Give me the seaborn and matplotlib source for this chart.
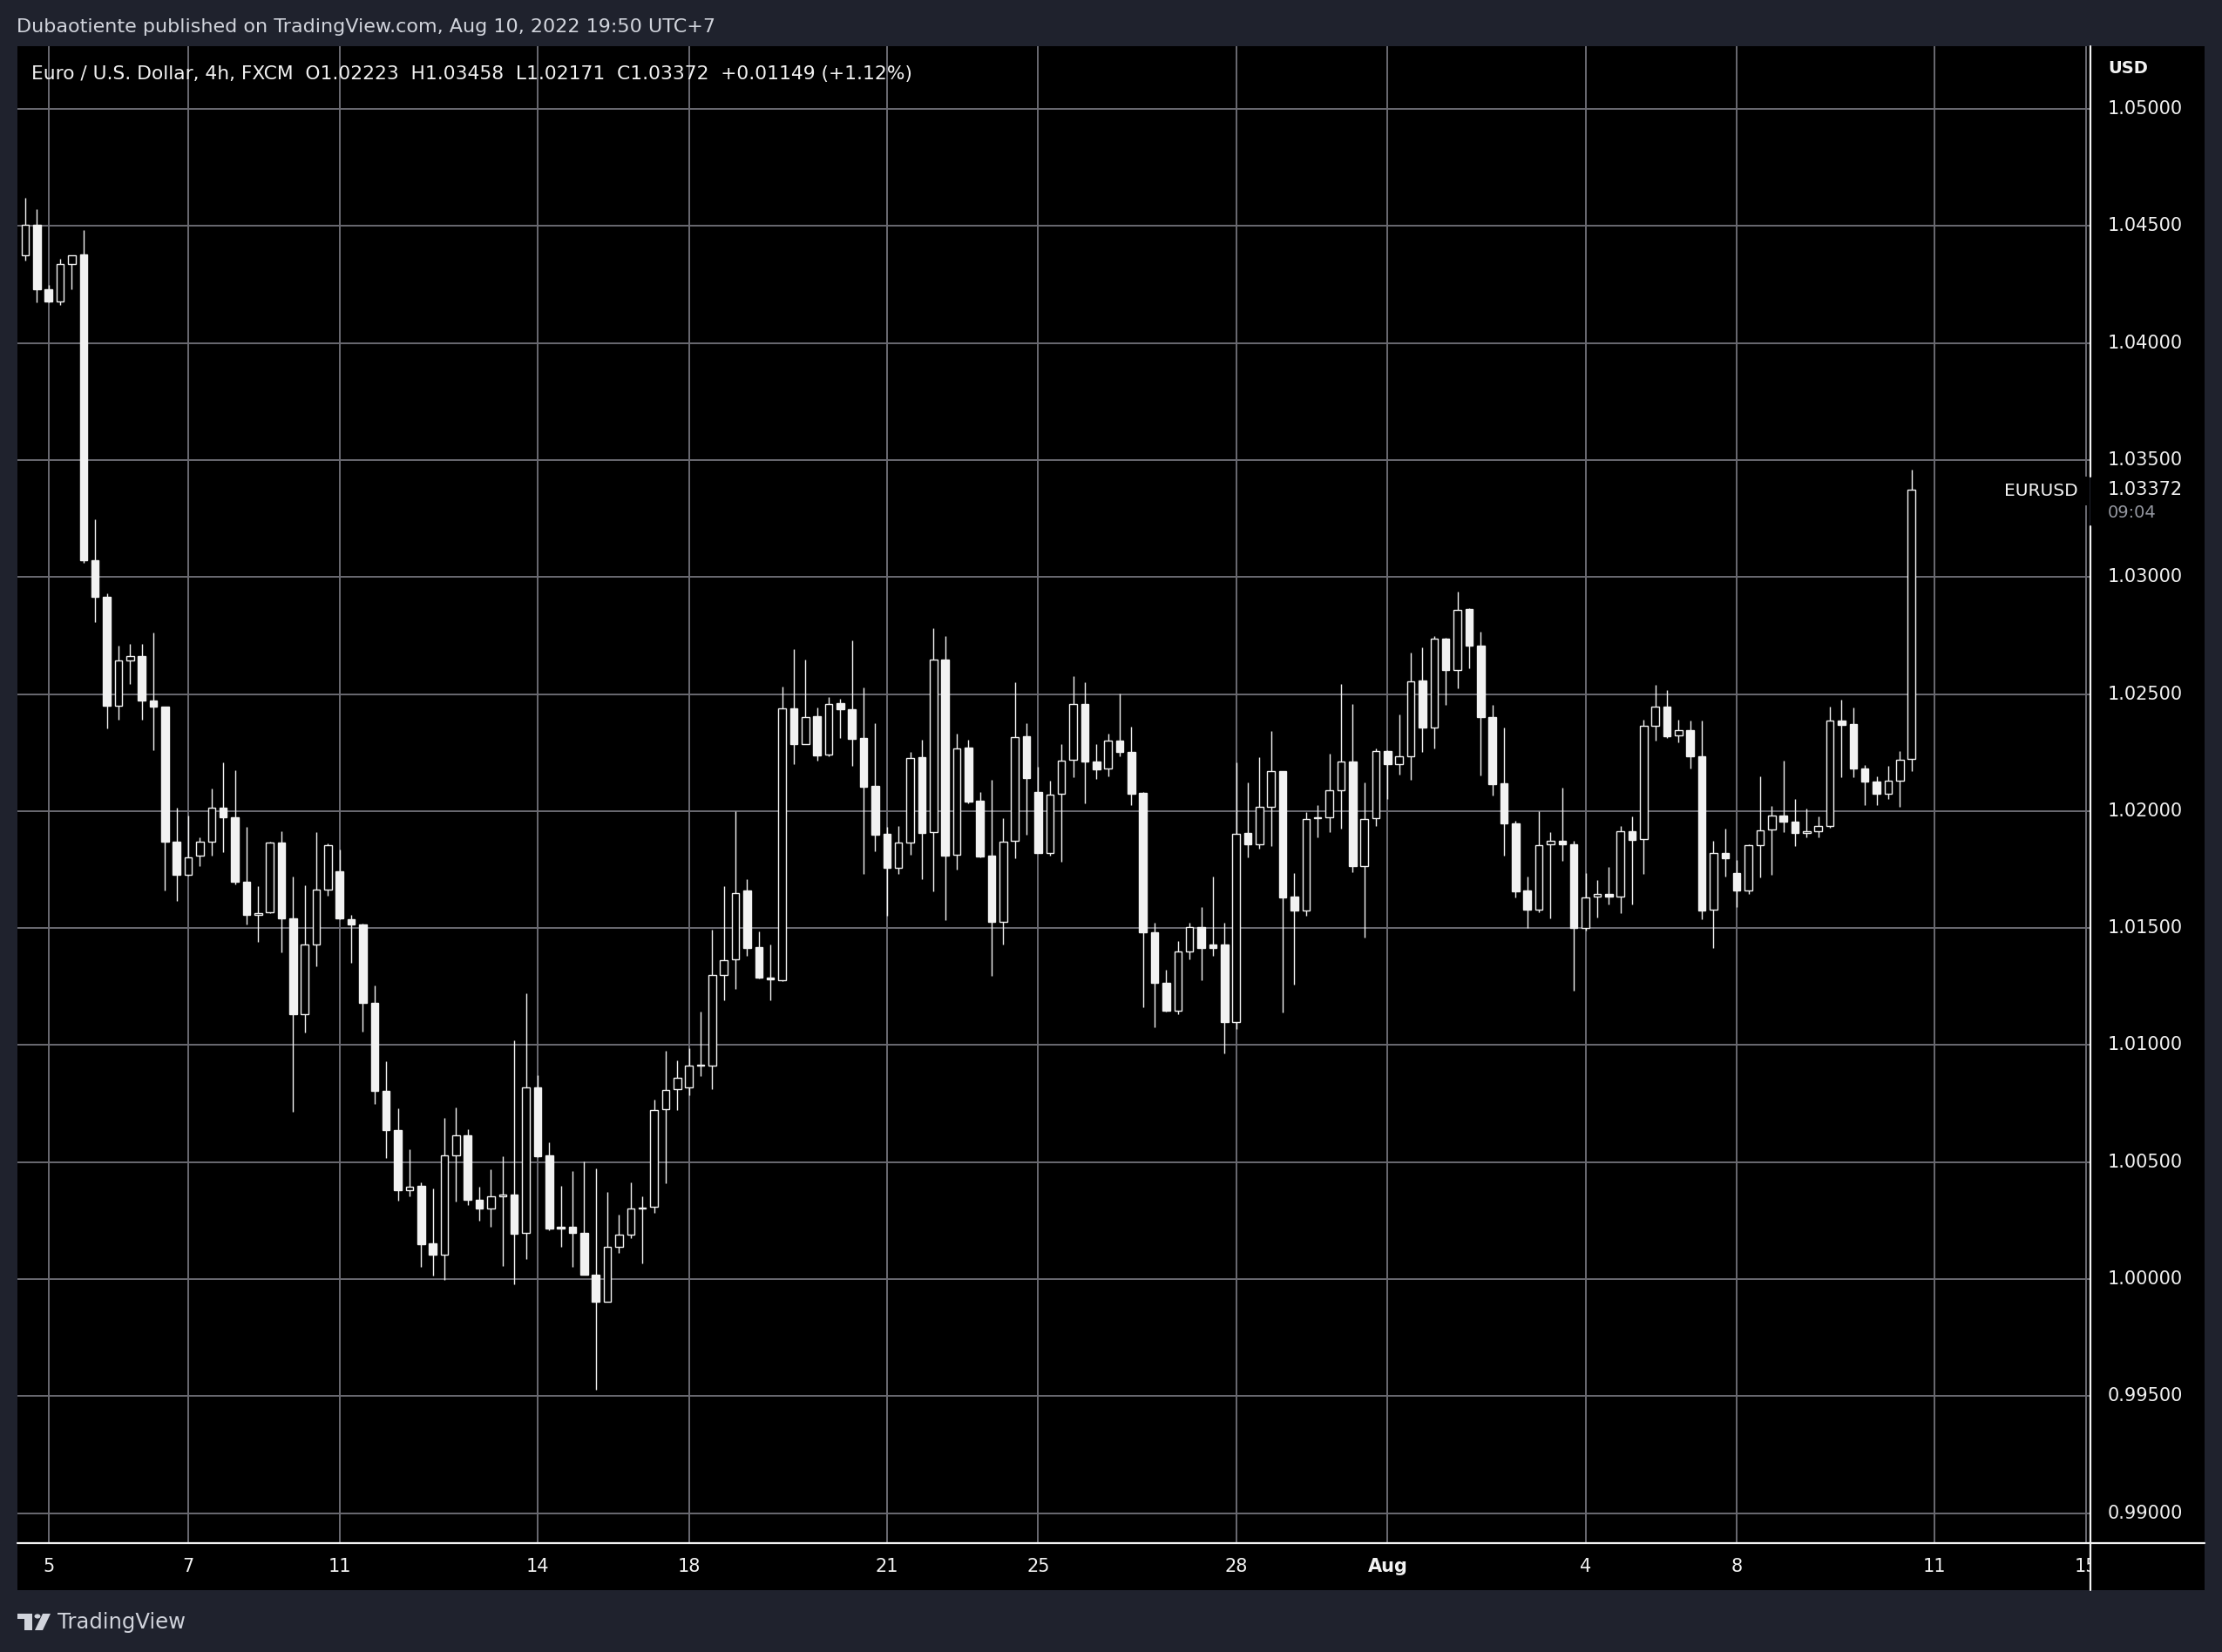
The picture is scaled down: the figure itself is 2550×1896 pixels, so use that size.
import numpy as np
import pandas as pd
import matplotlib
matplotlib.use("Agg")
import matplotlib.pyplot as plt
import seaborn as sns
from matplotlib.lines import Line2D
from matplotlib.patches import Rectangle, Polygon, Circle

# ---------------- data (EUR/USD 4h candles) ----------------
opens = [
    1.04374, 1.04506, 1.04231, 1.04178, 1.04339, 1.04380, 1.03072, 1.02914, 1.02449, 1.02645,
    1.02661, 1.02471, 1.02446, 1.01868, 1.01729, 1.01808, 1.01868, 1.02013, 1.01972, 1.01697,
    1.01555, 1.01567, 1.01865, 1.01542, 1.01131, 1.01428, 1.01665, 1.01741, 1.01536, 1.01514,
    1.01182, 1.00803, 1.00635, 1.00379, 1.00399, 1.00153, 1.00103, 1.00530, 1.00616, 1.00338,
    1.00301, 1.00353, 1.00362, 1.00197, 1.00820, 1.00528, 1.00225, 1.00225, 1.00198, 1.00019,
    0.99905, 1.00139, 1.00191, 1.00302, 1.00309, 1.00725, 1.00810, 1.00818, 1.00912, 1.00912,
    1.01300, 1.01365, 1.01660, 1.01417, 1.01287, 1.01277, 1.02438, 1.02286, 1.02404, 1.02241,
    1.02460, 1.02434, 1.02312, 1.02107, 1.01902, 1.01757, 1.01867, 1.02229, 1.01909, 1.02647,
    1.01812, 1.02270, 1.02044, 1.01808, 1.01527, 1.01871, 1.02318, 1.02083, 1.01822, 1.02072,
    1.02218, 1.02456, 1.02210, 1.02180, 1.02300, 1.02251, 1.02077, 1.01480, 1.01266, 1.01147,
    1.01400, 1.01503, 1.01429, 1.01429, 1.01100, 1.01905, 1.01856, 1.02019, 1.02172, 1.01635,
    1.01575, 1.01969, 1.01974, 1.02090, 1.02212, 1.01766, 1.01969, 1.02256, 1.02202, 1.02234,
    1.02556, 1.02356, 1.02738, 1.02604, 1.02863, 1.02708, 1.02402, 1.02117, 1.01949, 1.01660,
    1.01578, 1.01858, 1.01872, 1.01858, 1.01500, 1.01633, 1.01647, 1.01636, 1.01914, 1.01880,
    1.02363, 1.02447, 1.02322, 1.02345, 1.02235, 1.01577, 1.01820, 1.01735, 1.01662, 1.01855,
    1.01920, 1.01982, 1.01956, 1.01908, 1.01912, 1.01936, 1.02386, 1.02371, 1.02183, 1.02125,
    1.02075, 1.02129, 1.02223,
]
highs = [
    1.04620, 1.04573, 1.04247, 1.04361, 1.04376, 1.04484, 1.03245, 1.02929, 1.02708, 1.02715,
    1.02715, 1.02762, 1.02446, 1.02013, 1.01981, 1.01887, 1.02095, 1.02209, 1.02174, 1.01934,
    1.01678, 1.01870, 1.01912, 1.01720, 1.01681, 1.01909, 1.01861, 1.01836, 1.01555, 1.01520,
    1.01255, 1.00929, 1.00730, 1.00556, 1.00414, 1.00387, 1.00689, 1.00734, 1.00642, 1.00396,
    1.00470, 1.00526, 1.01019, 1.01220, 1.00873, 1.00585, 1.00400, 1.00460, 1.00504, 1.00474,
    1.00373, 1.00277, 1.00412, 1.00355, 1.00766, 1.00977, 1.00935, 1.00985, 1.01142, 1.01492,
    1.01680, 1.02000, 1.01710, 1.01485, 1.01431, 1.02531, 1.02693, 1.02647, 1.02442, 1.02488,
    1.02479, 1.02730, 1.02529, 1.02376, 1.01932, 1.01936, 1.02251, 1.02303, 1.02782, 1.02748,
    1.02330, 1.02303, 1.02080, 1.02133, 1.01969, 1.02551, 1.02376, 1.02189, 1.02129, 1.02286,
    1.02577, 1.02551, 1.02286, 1.02330, 1.02501, 1.02360, 1.02080, 1.01524, 1.01322, 1.01443,
    1.01521, 1.01588, 1.01720, 1.01521, 1.02207, 1.02121, 1.02231, 1.02340, 1.02172, 1.01734,
    1.01994, 1.02027, 1.02244, 1.02541, 1.02456, 1.02123, 1.02268, 1.02259, 1.02412, 1.02675,
    1.02698, 1.02749, 1.02740, 1.02937, 1.02865, 1.02765, 1.02453, 1.02355, 1.01959, 1.01721,
    1.02000, 1.01910, 1.02101, 1.01874, 1.01735, 1.01704, 1.01760, 1.01936, 1.01976, 1.02391,
    1.02538, 1.02518, 1.02391, 1.02388, 1.02385, 1.01874, 1.01926, 1.01789, 1.01857, 1.02147,
    1.02020, 1.02217, 1.02053, 1.02010, 1.01976, 1.02445, 1.02475, 1.02441, 1.02198, 1.02149,
    1.02192, 1.02255, 1.03458,
]
lows = [
    1.04351, 1.04174, 1.04175, 1.04162, 1.04231, 1.03062, 1.02806, 1.02354, 1.02392, 1.02541,
    1.02392, 1.02260, 1.01662, 1.01615, 1.01725, 1.01763, 1.01808, 1.01824, 1.01688, 1.01514,
    1.01441, 1.01565, 1.01397, 1.00714, 1.01052, 1.01337, 1.01637, 1.01536, 1.01353, 1.01056,
    1.00749, 1.00518, 1.00335, 1.00354, 1.00053, 1.00016, 0.99997, 1.00330, 1.00315, 1.00251,
    1.00225, 1.00057, 0.99976, 1.00085, 1.00520, 1.00208, 1.00139, 1.00052, 1.00017, 0.99526,
    0.99903, 1.00112, 1.00176, 1.00068, 1.00284, 1.00410, 1.00722, 1.00784, 1.00869, 1.00811,
    1.01190, 1.01240, 1.01380, 1.01285, 1.01190, 1.01272, 1.02201, 1.02285, 1.02214, 1.02233,
    1.02313, 1.02194, 1.01731, 1.01828, 1.01552, 1.01731, 1.01813, 1.01709, 1.01657, 1.01534,
    1.01750, 1.02034, 1.01803, 1.01296, 1.01430, 1.01800, 1.01899, 1.01820, 1.01810, 1.01784,
    1.02146, 1.02034, 1.02138, 1.02149, 1.02233, 1.02024, 1.01162, 1.01075, 1.01144, 1.01132,
    1.01365, 1.01276, 1.01382, 1.00963, 1.01067, 1.01802, 1.01838, 1.01852, 1.01140, 1.01258,
    1.01553, 1.01888, 1.01910, 1.01924, 1.01739, 1.01460, 1.01937, 1.02051, 1.02155, 1.02134,
    1.02252, 1.02266, 1.02453, 1.02524, 1.02610, 1.02151, 1.02067, 1.01809, 1.01632, 1.01500,
    1.01567, 1.01540, 1.01788, 1.01231, 1.01488, 1.01546, 1.01602, 1.01565, 1.01600, 1.01733,
    1.02302, 1.02312, 1.02294, 1.02181, 1.01537, 1.01415, 1.01719, 1.01591, 1.01647, 1.01715,
    1.01727, 1.01909, 1.01851, 1.01889, 1.01886, 1.01928, 1.02144, 1.02144, 1.02025, 1.02025,
    1.02051, 1.02017, 1.02171,
]
closes = [
    1.04506, 1.04231, 1.04178, 1.04336, 1.04374, 1.03072, 1.02914, 1.02449, 1.02642, 1.02661,
    1.02471, 1.02446, 1.01868, 1.01729, 1.01801, 1.01868, 1.02013, 1.01972, 1.01697, 1.01555,
    1.01564, 1.01865, 1.01542, 1.01131, 1.01428, 1.01665, 1.01855, 1.01542, 1.01514, 1.01182,
    1.00803, 1.00635, 1.00379, 1.00395, 1.00150, 1.00103, 1.00529, 1.00613, 1.00337, 1.00300,
    1.00353, 1.00361, 1.00194, 1.00820, 1.00525, 1.00216, 1.00216, 1.00198, 1.00019, 0.99905,
    1.00139, 1.00190, 1.00302, 1.00307, 1.00722, 1.00807, 1.00860, 1.00912, 1.00915, 1.01300,
    1.01362, 1.01650, 1.01413, 1.01287, 1.01280, 1.02438, 1.02285, 1.02403, 1.02239, 1.02459,
    1.02433, 1.02310, 1.02104, 1.01899, 1.01757, 1.01866, 1.02228, 1.01907, 1.02646, 1.01810,
    1.02269, 1.02040, 1.01806, 1.01526, 1.01869, 1.02317, 1.02142, 1.01822, 1.02071, 1.02216,
    1.02456, 1.02210, 1.02179, 1.02299, 1.02251, 1.02075, 1.01480, 1.01266, 1.01147, 1.01399,
    1.01503, 1.01415, 1.01415, 1.01100, 1.01902, 1.01856, 1.02019, 1.02172, 1.01632, 1.01575,
    1.01966, 1.01974, 1.02090, 1.02212, 1.01765, 1.01966, 1.02256, 1.02201, 1.02234, 1.02554,
    1.02355, 1.02738, 1.02601, 1.02860, 1.02705, 1.02400, 1.02115, 1.01946, 1.01657, 1.01578,
    1.01855, 1.01872, 1.01859, 1.01500, 1.01630, 1.01645, 1.01636, 1.01912, 1.01877, 1.02363,
    1.02447, 1.02320, 1.02345, 1.02235, 1.01574, 1.01820, 1.01797, 1.01662, 1.01854, 1.01917,
    1.01982, 1.01956, 1.01908, 1.01912, 1.01936, 1.02386, 1.02368, 1.02181, 1.02125, 1.02075,
    1.02129, 1.02218, 1.03372,
]
tick_index = [2, 14, 27, 44, 57, 74, 87, 104, 117, 134, 147, 164, 177]
tick_labels = ["5", "7", "11", "14", "18", "21", "25", "28", "Aug", "4", "8", "11", "15"]
price_ticks = [0.990, 0.995, 1.000, 1.005, 1.010, 1.015, 1.020, 1.025, 1.030, 1.035, 1.040, 1.045, 1.050]
price_labels = ["0.99000", "0.99500", "1.00000", "1.00500", "1.01000", "1.01500", "1.02000",
                "1.02500", "1.03000", "1.03500", "1.04000", "1.04500", "1.05000"]
header_text = "Dubaotiente published on TradingView.com, Aug 10, 2022 19:50 UTC+7"
legend_text = "Euro / U.S. Dollar, 4h, FXCM  O1.02223  H1.03458  L1.02171  C1.03372  +0.01149 (+1.12%)"
last_price_label = "1.03372"
countdown_label = "09:04"
symbol_label = "EURUSD"

df = pd.DataFrame({"open": opens, "high": highs, "low": lows, "close": closes})
df["idx"] = np.arange(len(df))
df["up"] = df["close"] >= df["open"]

# ---------------- style ----------------
sns.set_theme(style="dark")
plt.rcParams["font.family"] = ["DejaVu Sans"]

W, H = 2550, 1896
FRAME = "#1F222D"
GRID = "#6A6A72"
TXT = "#D1D4DC"
WHITE = "#F2F2F2"

def fx(px):
    return px / W

def fy(py):
    return 1 - py / H

fig = plt.figure(figsize=(W / 100, H / 100), dpi=100, facecolor=FRAME)

# pixel geometry -> data scales
CX0, CDX = 29.0, 13.362          # candle 0 x-pixel, spacing
PY0, PPX = 125.0, 3.723e-5       # y pixel of 1.05, price per pixel
def px_to_idx(px):
    return (px - CX0) / CDX
def py_to_price(py):
    return 1.05 - (py - PY0) * PPX

left_px, right_px, top_px, bot_px = 20, 2398, 53, 1769.5

ax = fig.add_axes([fx(left_px), fy(bot_px), fx(right_px - left_px), (bot_px - top_px) / H])
ax.set_facecolor("black")
ax.set_xlim(px_to_idx(left_px), px_to_idx(right_px))
ax.set_ylim(py_to_price(bot_px), py_to_price(top_px))
for s in ax.spines.values():
    s.set_visible(False)
ax.set_xticks([])
ax.set_yticks([])
ax.grid(False)

for t in tick_index:
    ax.axvline(t, color=GRID, lw=1.4, zorder=1)
for p in price_ticks:
    ax.axhline(p, color=GRID, lw=1.4, zorder=1)

# wicks
ax.vlines(df["idx"], df["low"], df["high"], color=WHITE, lw=1.0, zorder=2)
# bodies
body_bottom = np.minimum(df["open"], df["close"])
body_height = np.maximum(np.abs(df["close"] - df["open"]), 0.00002)
face = np.where(df["up"], "black", WHITE)
ax.bar(df["idx"], body_height, bottom=body_bottom, width=0.64,
       color=face, edgecolor=WHITE, linewidth=1.0, zorder=3)

# symbol label box
ax.add_patch(Rectangle((px_to_idx(2282), py_to_price(580)), (2398 - 2282) / CDX, 33 * PPX,
                       facecolor="black", edgecolor="none", zorder=5))
ax.text(px_to_idx(2385), py_to_price(563), symbol_label, color=WHITE, fontsize=14.5,
        ha="right", va="center", zorder=6)

# legend line
fig.text(fx(36), fy(85), legend_text, color=WHITE, fontsize=15.7, ha="left", va="center")

# ---------------- price axis panel ----------------
pax = fig.add_axes([fx(2399), fy(1825), fx(2530 - 2399), (1825 - top_px) / H])
pax.set_facecolor("black")
pax.set_ylim(py_to_price(1825), py_to_price(top_px))
pax.set_xlim(0, 1)
pax.set_xticks([])
pax.set_yticks([])
for s in pax.spines.values():
    s.set_visible(False)
ytr = pax.get_yaxis_transform()
for p, lab in zip(price_ticks, price_labels):
    pax.text(0.153, p, lab, transform=ytr, color=WHITE, fontsize=15, ha="left", va="center")
pax.text(0.153, py_to_price(79), "USD", transform=ytr, color=WHITE, fontsize=14,
         ha="left", va="center", fontweight="bold")
pax.text(0.153, py_to_price(562), last_price_label, transform=ytr, color=WHITE, fontsize=15,
         ha="left", va="center")
pax.text(0.153, py_to_price(589), countdown_label, transform=ytr, color="#9598A1", fontsize=14,
         ha="left", va="center")

# ---------------- time axis strip ----------------
tax = fig.add_axes([fx(left_px), fy(1825), fx(right_px - left_px), (1825 - 1772) / H])
tax.set_facecolor("black")
tax.set_xlim(ax.get_xlim())
tax.set_ylim(0, 1)
tax.set_xticks([])
tax.set_yticks([])
for s in tax.spines.values():
    s.set_visible(False)
for t, lab in zip(tick_index, tick_labels):
    tax.text(t, 0.5, lab, color=WHITE, fontsize=15, ha="center", va="center",
             fontweight="bold" if lab == "Aug" else "normal", clip_on=True)

# axis lines
fig.add_artist(Line2D([fx(20), fx(2530)], [fy(1770.5), fy(1770.5)], color=WHITE, lw=1.6))
fig.add_artist(Line2D([fx(2398.5), fx(2398.5)], [fy(53), fy(547)], color=WHITE, lw=1.6))
fig.add_artist(Line2D([fx(2398.5), fx(2398.5)], [fy(604), fy(1825)], color=WHITE, lw=1.6))

# header
fig.text(fx(19), fy(31), header_text, color=TXT, fontsize=16, ha="left", va="center")

# TradingView logo (footer)
fig.add_artist(Rectangle((fx(20), fy(1858)), fx(17), 6 / H, transform=fig.transFigure,
                         facecolor=TXT, edgecolor="none"))
fig.add_artist(Rectangle((fx(28), fy(1871)), fx(9), 13 / H, transform=fig.transFigure,
                         facecolor=TXT, edgecolor="none"))
fig.add_artist(Circle((fx(43), fy(1855)), 3.5 / W, transform=fig.transFigure,
                      facecolor=TXT, edgecolor="none"))
fig.add_artist(Polygon([(fx(49), fy(1852)), (fx(58), fy(1852)), (fx(49), fy(1871)), (fx(40), fy(1871))],
                       closed=True, transform=fig.transFigure, facecolor=TXT, edgecolor="none"))
fig.text(fx(66), fy(1862), "TradingView", color=TXT, fontsize=17.5, ha="left", va="center")

fig.savefig("out.png", dpi=100, facecolor=FRAME)
